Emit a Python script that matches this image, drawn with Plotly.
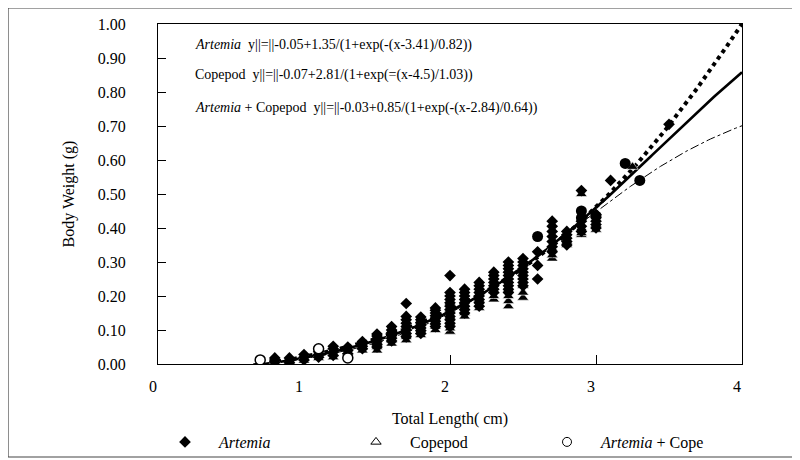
import numpy as np
import plotly.graph_objects as go

# ---------------- data ----------------
artemia_len = [0.8, 0.9, 1.0, 1.1, 1.2, 1.3, 1.4, 1.5, 1.6, 1.7, 1.8, 1.9, 2.0, 2.1,
               2.2, 2.3, 2.4, 2.5, 2.6, 2.7, 2.8, 2.9, 3.0, 3.1, 3.5]
artemia_wt = [
    [0.005, 0.012, 0.018],
    [0.004, 0.010, 0.018],
    [0.012, 0.020, 0.028],
    [0.020, 0.028, 0.036],
    [0.025, 0.035, 0.045, 0.052],
    [0.030, 0.040, 0.050],
    [0.045, 0.052, 0.060, 0.066],
    [0.050, 0.058, 0.066, 0.074, 0.082, 0.088],
    [0.068, 0.076, 0.084, 0.092, 0.100, 0.110],
    [0.080, 0.090, 0.100, 0.110, 0.120, 0.130, 0.140, 0.178],
    [0.090, 0.098, 0.106, 0.114, 0.122, 0.130, 0.138],
    [0.110, 0.118, 0.126, 0.134, 0.142, 0.150, 0.158, 0.165],
    [0.110, 0.120, 0.130, 0.140, 0.150, 0.160, 0.170, 0.180, 0.190, 0.200, 0.210, 0.260],
    [0.150, 0.160, 0.170, 0.180, 0.190, 0.200, 0.210, 0.220],
    [0.170, 0.180, 0.190, 0.200, 0.210, 0.220, 0.230, 0.240],
    [0.210, 0.220, 0.230, 0.240, 0.250, 0.260, 0.270],
    [0.210, 0.220, 0.230, 0.240, 0.250, 0.260, 0.270, 0.280, 0.290, 0.300],
    [0.230, 0.240, 0.250, 0.260, 0.270, 0.280, 0.290, 0.300, 0.310],
    [0.250, 0.290, 0.330],
    [0.330, 0.345, 0.360, 0.375, 0.390, 0.405, 0.420],
    [0.350, 0.360, 0.370, 0.380, 0.390],
    [0.390, 0.405, 0.420, 0.510],
    [0.400, 0.410, 0.420, 0.430, 0.440],
    [0.540],
    [0.705],
]

copepod_len = [0.8, 0.9, 1.0, 1.1, 1.2, 1.3, 1.4, 1.5, 1.6, 1.7, 1.8, 1.9, 2.0, 2.1,
               2.2, 2.3, 2.4, 2.5, 2.7, 2.8, 2.9, 3.0, 3.25]
copepod_wt = [
    [0.003, 0.010],
    [0.000, 0.008],
    [0.010, 0.018],
    [0.018, 0.025],
    [0.020, 0.030],
    [0.025, 0.035],
    [0.040, 0.050],
    [0.040, 0.050, 0.060],
    [0.060, 0.070, 0.085],
    [0.070, 0.080, 0.090, 0.110],
    [0.085, 0.095, 0.105],
    [0.100, 0.110, 0.125],
    [0.095, 0.105, 0.120, 0.140, 0.160, 0.180],
    [0.140, 0.150, 0.165],
    [0.165, 0.175, 0.190],
    [0.190, 0.200, 0.215],
    [0.170, 0.185, 0.200, 0.220],
    [0.195, 0.210, 0.230],
    [0.310, 0.320, 0.340],
    [0.350, 0.360],
    [0.380, 0.385, 0.400, 0.500],
    [0.395, 0.410],
    [0.580],
]

mixed_open_len = [0.7, 1.1, 1.3]
mixed_open_wt = [0.012, 0.045, 0.018]
mixed_fill_len = [2.6, 2.9, 2.9, 3.0, 3.2, 3.3]
mixed_fill_wt = [0.375, 0.450, 0.430, 0.435, 0.590, 0.540]

# fitted logistic curves printed on the chart: y = a + b/(1+exp(-(x-c)/d))
fit_names = ["Artemia", "Copepod", "Artemia + Copepod"]
fit_a = [-0.05, -0.07, -0.03]
fit_b = [1.35, 2.81, 0.85]
fit_c = [3.41, 4.5, 2.84]
fit_d = [0.82, 1.03, 0.64]
fit_x_range = [0.6, 4.0]

eq_labels = [
    "<i>Artemia</i>  y||=||-0.05+1.35/(1+exp(-(x-3.41)/0.82))",
    "Copepod  y||=||-0.07+2.81/(1+exp(=(x-4.5)/1.03))",
    "<i>Artemia</i> + Copepod  y||=||-0.03+0.85/(1+exp(-(x-2.84)/0.64))",
]
eq_y = [0.937, 0.85, 0.752]

x_ticks = [0, 1, 2, 3, 4]
y_ticks = [0.0, 0.1, 0.2, 0.3, 0.4, 0.5, 0.6, 0.7, 0.8, 0.9, 1.0]


def flatten(lens, wts):
    xs, ys = [], []
    for x, col in zip(lens, wts):
        for y in col:
            xs.append(x)
            ys.append(y)
    return xs, ys


FONT = "Liberation Serif"
fig = go.Figure()

# fitted curves
styles = [dict(width=2.6, dash="solid"),
          dict(width=4, dash="dot"),
          dict(width=1, dash="dashdot")]
xc = np.linspace(fit_x_range[0], fit_x_range[1], 300)
for i in range(3):
    yc = fit_a[i] + fit_b[i] / (1 + np.exp(-(xc - fit_c[i]) / fit_d[i]))
    fig.add_trace(go.Scatter(x=xc, y=yc, mode="lines", showlegend=False,
                             line=dict(color="black", **styles[i]),
                             hoverinfo="skip"))

# data points
cx, cy = flatten(copepod_len, copepod_wt)
fig.add_trace(go.Scatter(x=cx, y=cy, mode="markers", showlegend=False,
                         marker=dict(symbol="triangle-up", size=10, color="black",
                                     line=dict(color="white", width=0.6))))
ax, ay = flatten(artemia_len, artemia_wt)
fig.add_trace(go.Scatter(x=ax, y=ay, mode="markers", showlegend=False,
                         marker=dict(symbol="diamond", size=9, color="black",
                                     line=dict(color="black", width=0))))
fig.add_trace(go.Scatter(x=mixed_fill_len, y=mixed_fill_wt, mode="markers", showlegend=False,
                         marker=dict(symbol="circle", size=11, color="black")))
fig.add_trace(go.Scatter(x=mixed_open_len, y=mixed_open_wt, mode="markers", showlegend=False,
                         marker=dict(symbol="circle", size=10, color="white",
                                     line=dict(color="black", width=1.5))))

# legend entries
fig.add_trace(go.Scatter(x=[None], y=[None], mode="markers", name="<i>Artemia</i>",
                         marker=dict(symbol="diamond", size=9, color="black")))
fig.add_trace(go.Scatter(x=[None], y=[None], mode="markers", name="Copepod",
                         marker=dict(symbol="triangle-up-open", size=9, color="black",
                                     line=dict(width=1))))
fig.add_trace(go.Scatter(x=[None], y=[None], mode="markers", name="<i>Artemia</i> + Cope",
                         marker=dict(symbol="circle-open", size=9, color="black",
                                     line=dict(width=1))))

for txt, yy in zip(eq_labels, eq_y):
    fig.add_annotation(x=0.06, y=yy, xref="paper", yref="paper", text=txt,
                       showarrow=False, xanchor="left", yanchor="middle",
                       font=dict(family=FONT, size=14, color="black"))

# page body has an 8px margin; positions below are screen pixels
OFF = 8
L, R, T, B = 158, 742, 24, 364
W, H = 800 - OFF, 460 - OFF
pw, ph = R - L, B - T
fig.add_shape(type="rect", xref="paper", yref="paper",
              x0=(8 - L) / pw, x1=(797 - L) / pw,
              y0=(B - 457) / ph, y1=(B - 8) / ph,
              line=dict(color="#444", width=1.2), fillcolor="rgba(0,0,0,0)", layer="below")

fig.update_layout(
    width=W, height=H,
    margin=dict(l=L - OFF, r=800 - R, t=T - OFF, b=460 - B, autoexpand=False),
    paper_bgcolor="white", plot_bgcolor="white",
    font=dict(family=FONT, size=16, color="black"),
    showlegend=True,
    legend=dict(orientation="h", x=(151 - L) / pw, y=(B - 442) / ph,
                xanchor="left", yanchor="middle",
                font=dict(family=FONT, size=16, color="black"),
                itemwidth=58, entrywidth=118, entrywidthmode="pixels",
                bgcolor="rgba(0,0,0,0)"),
)
fig.update_xaxes(range=[0, 4], tickvals=x_ticks, ticktext=[str(t) for t in x_ticks],
                 showline=True, linecolor="black", linewidth=1.2, mirror=True,
                 ticks="inside", ticklen=9, tickcolor="black", showgrid=False,
                 zeroline=False, ticklabelstandoff=8, ticklabelshift=-5,
                 title=dict(text="Total Length( cm)", standoff=18,
                            font=dict(family=FONT, size=16)))
fig.update_yaxes(range=[0, 1], tickvals=y_ticks, tickformat=".2f",
                 showline=True, linecolor="black", linewidth=1.2, mirror=True,
                 ticks="inside", ticklen=8, tickcolor="black", showgrid=False,
                 zeroline=False, ticklabelstandoff=28,
                 title=dict(text="Body Weight (g)", standoff=19,
                            font=dict(family=FONT, size=16)))

fig.write_html("out.html")
